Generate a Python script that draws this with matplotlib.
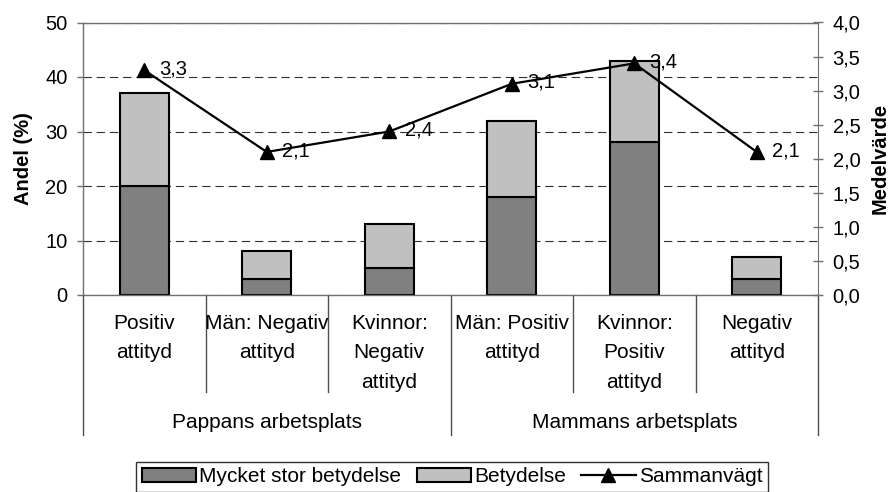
import matplotlib
matplotlib.use('Agg')
import matplotlib.pyplot as plt
import matplotlib.transforms as mtransforms
from matplotlib.ticker import FuncFormatter, MultipleLocator
from matplotlib.patches import Patch
from matplotlib.lines import Line2D

plt.rcParams['font.family'] = ['Liberation Sans', 'DejaVu Sans']
plt.rcParams['lines.scale_dashes'] = False

# data
kategorier = ['Positiv\nattityd', 'Män: Negativ\nattityd', 'Kvinnor:\nNegativ\nattityd',
              'Män: Positiv\nattityd', 'Kvinnor:\nPositiv\nattityd', 'Negativ\nattityd']
grupper = ['Pappans arbetsplats', 'Mammans arbetsplats']
mycket_stor = [20, 3, 5, 18, 28, 3]
betydelse = [17, 5, 8, 14, 15, 4]
sammanvagt = [3.3, 2.1, 2.4, 3.1, 3.4, 2.1]

W, H = 891, 492
fs = 14.5
fs_kat = 15
mork = '#808080'
ljus = '#c0c0c0'
axgra = '#707070'

fig = plt.figure(figsize=(W / 100, H / 100), dpi=100)
ax = fig.add_axes([83 / W, 1 - 295 / H, 735 / W, 272.5 / H])
ax2 = ax.twinx()

x = list(range(len(kategorier)))
ax.bar(x, mycket_stor, width=0.4, color=mork, edgecolor='black', linewidth=1.5, zorder=2)
ax.bar(x, betydelse, width=0.4, bottom=mycket_stor, color=ljus, edgecolor='black', linewidth=1.5, zorder=2)

ax.set_xlim(-0.5, len(kategorier) - 0.5)
ax.set_ylim(0, 50)
ax.yaxis.set_major_locator(MultipleLocator(10))
ax.set_axisbelow(True)
ax.yaxis.grid(True, color='#303030', linewidth=0.8, linestyle=(0, (6, 3.5)))
ax.set_xticks([])
ax.tick_params(axis='y', labelsize=fs, direction='out', length=4, width=1, color=axgra, pad=7)
for s in ['left', 'top', 'bottom']:
    ax.spines[s].set_color(axgra)
    ax.spines[s].set_linewidth(1)
ax.spines['right'].set_visible(False)
ax.set_ylabel('Andel (%)', fontsize=fs, fontweight='bold', labelpad=9)

ax2.plot(x, sammanvagt, color='black', linewidth=1.6, marker='^', markersize=10, zorder=3)
for xi, v in zip(x, sammanvagt):
    ax2.annotate(f'{v:.1f}'.replace('.', ','), xy=(xi, v), xytext=(11, 1),
                 textcoords='offset points', ha='left', va='center', fontsize=fs)
ax2.set_ylim(0, 4)
ax2.yaxis.set_major_locator(MultipleLocator(0.5))
ax2.yaxis.set_major_formatter(FuncFormatter(lambda v, p: f'{v:.1f}'.replace('.', ',')))
ax2.tick_params(axis='y', labelsize=fs, direction='inout', length=7, width=1, color=axgra, pad=7)
for s in ['left', 'top', 'bottom']:
    ax2.spines[s].set_visible(False)
ax2.spines['right'].set_color(axgra)
ax2.set_ylabel('Medelvärde', fontsize=fs, fontweight='bold', labelpad=7)

# category axis below the plot
blend = mtransforms.blended_transform_factory(ax.transData, fig.transFigure)
y0 = 1 - 295 / H
for b in [0.5, 1.5, 3.5, 4.5]:
    ax.plot([b, b], [y0, 1 - 392 / H], transform=blend, clip_on=False, color='#505050', lw=1)
for b in [-0.5, 2.5, 5.5]:
    ax.plot([b, b], [y0, 1 - 435 / H], transform=blend, clip_on=False, color='#505050', lw=1)
for xi, lab in zip(x, kategorier):
    ax.text(xi, 1 - 314 / H, lab, transform=blend, ha='center', va='top',
            fontsize=fs_kat, linespacing=1.7)
for gi, g in enumerate(grupper):
    ax.text(gi * 3 + 1, 1 - 422 / H, g, transform=blend, ha='center', va='center', fontsize=fs_kat)

handles = [Patch(facecolor=mork, edgecolor='black', linewidth=1.5),
           Patch(facecolor=ljus, edgecolor='black', linewidth=1.5),
           Line2D([], [], color='black', linewidth=1.6, marker='^', markersize=10)]
leg = fig.legend(handles, ['Mycket stor betydelse', 'Betydelse', 'Sammanvägt'],
                 loc='center', bbox_to_anchor=(452 / W, 1 - 477 / H), ncol=3, fontsize=fs_kat,
                 frameon=True, fancybox=False, edgecolor='black', handlelength=2.6,
                 handleheight=0.65, handletextpad=0.15, columnspacing=0.75, borderpad=0.25,
                 borderaxespad=0)
leg.get_frame().set_linewidth(1)

fig.savefig('out.png', dpi=100)
